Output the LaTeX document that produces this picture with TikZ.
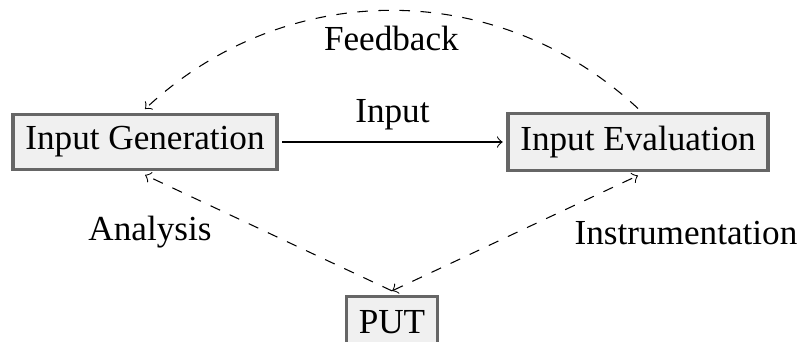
\documentclass[tikz,border=0pt]{standalone}
\usepackage{fontspec}
\setmainfont{Liberation Serif}
\begin{document}
\begin{tikzpicture}[x=0.01cm,y=-0.01cm,
    box/.style={draw=black!60,fill=black!6,line width=0.9pt,inner sep=3.5pt,minimum height=14.7pt,outer sep=1.5pt},
    link/.style={->,line width=0.3pt,dashed}]
        \useasboundingbox (0,0) rectangle (803,341);
        \node[box](gen) at (145,142){Input Generation};
        \node[box](eval) at (638,142){Input Evaluation};
        \node[box](put) at (392,322){PUT};
        \draw[->,line width=0.3pt](gen)--(eval)node[midway,above]{Input};
        \draw[link](eval.north)to[bend right=43]node[midway,below=1pt]{Feedback}(gen.north);
        \draw[link](put.north)--(gen.south);
        \draw[link,<->](put.north)--(eval.south);
        \node(ana) at (150,232){Analysis};
        \node(ins) at (686,233){Instrumentation};
    \end{tikzpicture}
\end{document}
